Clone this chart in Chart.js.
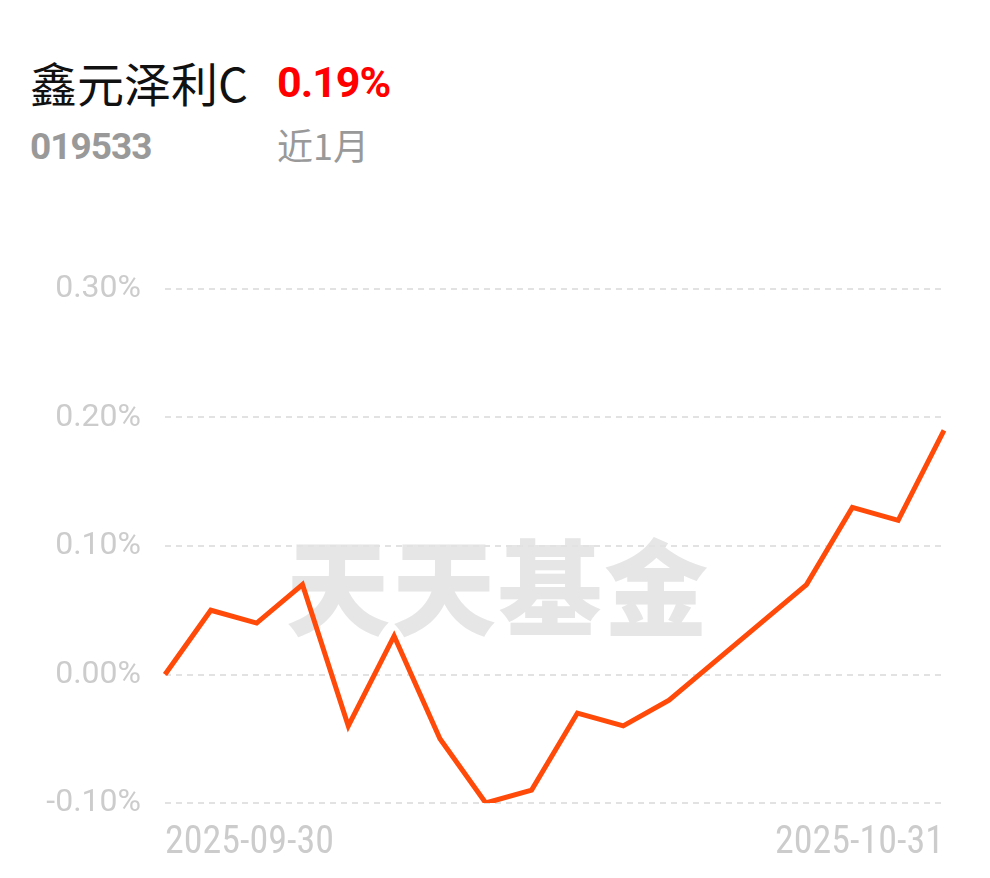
<!DOCTYPE html>
<html lang="zh">
<head>
    <meta charset="UTF-8">
    <title>鑫元泽利C</title>
    <script src="https://cdn.jsdelivr.net/npm/chart.js@4.4.1/dist/chart.umd.min.js"></script>
    <style>
        body { margin: 0; background: #fff; width: 990px; height: 878px; overflow: hidden; position: relative; font-family: "Noto Sans CJK SC", Roboto, sans-serif; }
        .name { position: absolute; left: 30px; top: 52px; font-size: 47px; color: #111; line-height: 60px; }
        .ret { position: absolute; left: 277px; top: 52px; font-family: Roboto, sans-serif; font-weight: bold; font-size: 43px; color: #f00; line-height: 60px; letter-spacing: -1px; }
        .code { position: absolute; left: 30px; top: 122px; font-family: Roboto, sans-serif; font-weight: bold; font-size: 37px; color: #999; line-height: 50px; letter-spacing: -1px; }
        .period { position: absolute; left: 277px; top: 119px; font-size: 36px; color: #999; line-height: 50px; }
        .mark { position: absolute; left: 0; width: 996px; top: 518px; text-align: center; font-size: 104px; font-weight: 900; color: #e6e6e6; line-height: 130px; letter-spacing: 2px; }
        .wrap { position: absolute; left: 0; top: 0; width: 990px; height: 878px; }
    </style>
</head>
<body>
<div class="name">鑫元泽利C</div>
<div class="ret">0.19%</div>
<div class="code">019533</div>
<div class="period">近1月</div>
<div class="mark">天天基金</div>
<div class="wrap"><canvas id="chart" width="990" height="878"></canvas></div>
<script>
    const dates = ['2025-09-30', '2025-10-09', '2025-10-10', '2025-10-13', '2025-10-14', '2025-10-15',
        '2025-10-16', '2025-10-17', '2025-10-20', '2025-10-21', '2025-10-22', '2025-10-23',
        '2025-10-24', '2025-10-27', '2025-10-28', '2025-10-29', '2025-10-30', '2025-10-31'];
    const returns = [0.00, 0.05, 0.04, 0.07, -0.04, 0.03, -0.05, -0.10, -0.09, -0.03, -0.04, -0.02,
        0.01, 0.04, 0.07, 0.13, 0.12, 0.19];
    const yTicks = [0.30, 0.20, 0.10, 0.00, -0.10];

    const ctx = document.getElementById('chart').getContext('2d');
    const myChart = new Chart(ctx, {
        type: 'line',
        data: {
            labels: dates,
            datasets: [{
                data: returns,
                borderColor: '#ff4a0a',
                borderWidth: 5,
                pointRadius: 0,
                tension: 0,
                fill: false
            }]
        },
        options: {
            responsive: false,
            animation: false,
            layout: { padding: { left: 0, right: 46, top: 289, bottom: 0 } },
            plugins: { legend: { display: false }, tooltip: { enabled: false } },
            scales: {
                x: {
                    afterFit: function (s) { s.height = 75; },
                    grid: { display: false },
                    border: { display: false },
                    ticks: {
                        autoSkip: false,
                        maxRotation: 0,
                        align: 'inner',
                        padding: 10,
                        color: '#cccccc',
                        font: { family: '"Liberation Sans Narrow", "Roboto Condensed", Roboto', size: 38 },
                        callback: function (v, i) {
                            return (i === 0 || i === dates.length - 1) ? dates[i] : '';
                        }
                    }
                },
                y: {
                    min: -0.10,
                    max: 0.30,
                    afterFit: function (s) { s.width = 165; },
                    afterBuildTicks: function (s) { s.ticks = yTicks.map(v => ({ value: v })); },
                    border: { display: false, dash: [6, 5] },
                    grid: {
                        color: '#e2e2e2',
                        lineWidth: 2,
                        drawTicks: false
                    },
                    ticks: {
                        padding: 24,
                        color: '#cccccc',
                        font: { family: 'Roboto', size: 32 },
                        callback: v => v.toFixed(2) + '%'
                    }
                }
            }
        }
    });
</script>
</body>
</html>
